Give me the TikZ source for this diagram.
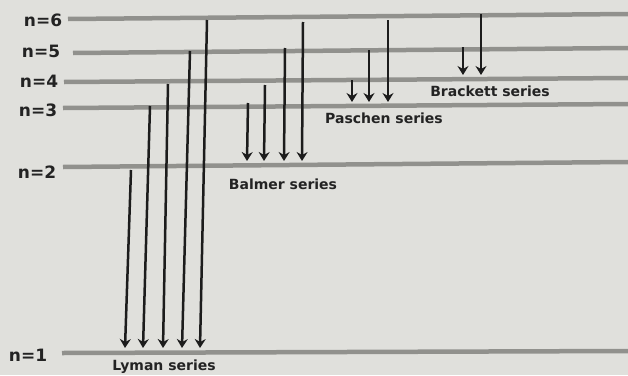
\documentclass[tikz,border=0pt]{standalone}
\usepackage{fontspec}
\setmainfont{DejaVu Sans}
\usetikzlibrary{arrows.meta}
\definecolor{paper}{RGB}{224,224,220}
\definecolor{levelgray}{RGB}{145,145,141}
\definecolor{ink}{RGB}{28,28,28}
\definecolor{labelink}{RGB}{35,35,35}
\begin{document}
\begin{tikzpicture}[x=1pt,y=-1pt,
  level/.style={draw=levelgray,line width=4.5pt},
  trans/.style={draw=ink,line width=2.5pt,-{Stealth[length=9pt,width=11pt,inset=3pt]}},
  nlabel/.style={text=labelink,font=\bfseries\fontsize{17}{17}\selectfont,inner sep=0pt},
  slabel/.style={text=labelink,font=\bfseries\fontsize{14}{14}\selectfont,inner sep=0pt}]
\fill[paper] (0,0) rectangle (628,375);
\useasboundingbox (0,0) rectangle (628,375);
% energy levels
\coordinate (L6a) at (68,19);  \coordinate (L6b) at (628,14);
\coordinate (L5a) at (73,53);  \coordinate (L5b) at (628,48);
\coordinate (L4a) at (64,82);  \coordinate (L4b) at (628,78);
\coordinate (L3a) at (63,108); \coordinate (L3b) at (628,104);
\coordinate (L2a) at (63,167); \coordinate (L2b) at (628,162);
\coordinate (L1a) at (62,353); \coordinate (L1b) at (628,351);
\foreach \n in {1,...,6} {\draw[level] (L\n a) -- (L\n b);}
% level labels
\node[nlabel] (n6) at (43,20) {n=6};
\node[nlabel] (n5) at (41,51) {n=5};
\node[nlabel] (n4) at (39,81) {n=4};
\node[nlabel] (n3) at (38,110) {n=3};
\node[nlabel] (n2) at (37,172) {n=2};
\node[nlabel] (n1) at (28,355) {n=1};
% Lyman series
\coordinate (ly2t) at (131,170); \coordinate (ly2b) at (125,348);
\coordinate (ly3t) at (150,106); \coordinate (ly3b) at (143,348);
\coordinate (ly4t) at (168,84);  \coordinate (ly4b) at (163,348);
\coordinate (ly5t) at (190,51);  \coordinate (ly5b) at (182,348);
\coordinate (ly6t) at (207,20);  \coordinate (ly6b) at (200,348);
\foreach \n in {2,...,6} {\draw[trans] (ly\n t) -- (ly\n b);}
% Balmer series
\coordinate (ba3t) at (248,103); \coordinate (ba3b) at (247,161);
\coordinate (ba4t) at (265,85);  \coordinate (ba4b) at (264,161);
\coordinate (ba5t) at (285,48);  \coordinate (ba5b) at (284,161);
\coordinate (ba6t) at (303,22);  \coordinate (ba6b) at (302,161);
\foreach \n in {3,...,6} {\draw[trans] (ba\n t) -- (ba\n b);}
% Paschen series
\coordinate (pa4t) at (352,80); \coordinate (pa4b) at (352,102);
\coordinate (pa5t) at (369,50); \coordinate (pa5b) at (369,102);
\coordinate (pa6t) at (388,20); \coordinate (pa6b) at (388,102);
\foreach \n in {4,...,6} {\draw[trans] (pa\n t) -- (pa\n b);}
% Brackett series
\coordinate (br5t) at (463,47); \coordinate (br5b) at (463,75);
\coordinate (br6t) at (481,14); \coordinate (br6b) at (481,75);
\foreach \n in {5,6} {\draw[trans] (br\n t) -- (br\n b);}
% series labels
\node[slabel] (lyman) at (164,367) {Lyman series};
\node[slabel] (balmer) at (283,184) {Balmer series};
\node[slabel] (paschen) at (384,118) {Paschen series};
\node[slabel] (brackett) at (490,91) {Brackett series};
\end{tikzpicture}
\end{document}
